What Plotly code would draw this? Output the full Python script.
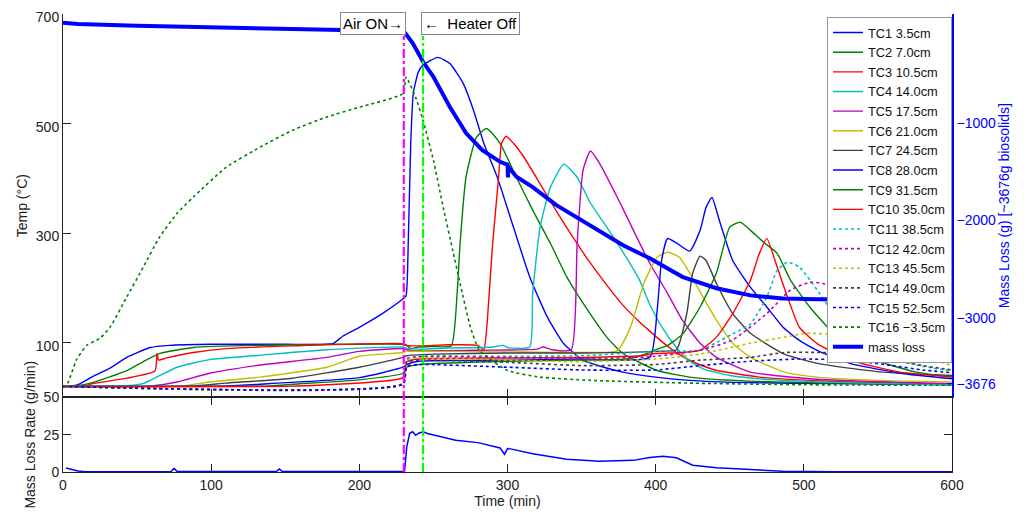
import plotly.graph_objects as go

# ---------------- data (time in min, temperature in degC) ----------------
tc1 = [[0,21],[9,22],[20,38],[32,54],[43,73],[59,91],[72,95],[100,97],[150,97],[182,98],[189,112],[200,128],[215,152],[229.5,180],[231.5,185],[233,281],[234.7,464],[236.4,555],[239.8,594],[243,607],[253,621],[261,610],[270,574],[277,525],[284,464],[293,403],[304,311],[315,220],[327,146],[338,98],[351,68],[365,55],[378,46],[400,37],[423,31],[460,27],[520,25],[600,23]]
tc2 = [[0,20],[8,21],[20,27],[43,49],[54,65],[65,80],[88,91],[133,95],[229.5,97],[232,95],[235,89],[240,92],[250,93],[262,94],[266,190],[268,281],[272,402],[279,475],[286,491],[295,464],[306,402],[317,342],[329,281],[340,220],[351,172],[367,110],[378,80],[401,49],[423,37],[460,30],[520,26],[600,24]]
tc3 = [[0,20],[15,21],[20,25],[43,35],[62,48],[63.5,80],[64.5,68],[70,72],[88,82],[110,89],[155,94],[229.5,98],[232,95],[240,94],[260,96],[280,95],[284,87],[286,128],[290,281],[294,402],[296,464],[299,477],[304,464],[311,439],[322,390],[333,340],[344,293],[356,245],[367,205],[378,168],[389,138],[396,121],[405,100],[415,80],[425,65],[440,50],[470,37],[520,29],[600,24]]
tc4 = [[0,20],[40,21],[54,25],[77,55],[99,69],[133,77],[178,87],[229.5,92],[232,90],[240,88],[260,90],[290,92],[297,95],[300,91],[315,92],[317,190],[322,311],[329,384],[338,426],[347,402],[356,355],[367,311],[378,265],[389,215],[396,170],[405,125],[414,91],[422,68],[432,52],[450,40],[480,32],[540,26],[600,23]]
tc5 = [[0,20],[60,21],[77,28],[99,44],[133,59],[178,73],[200,84],[229.5,89],[232,87],[240,85],[280,86],[320,88],[324,92],[330,87],[343,87],[347,281],[351,415],[356,450],[362,428],[374,366],[385,305],[396,245],[408,190],[418,141],[430,99],[441,73],[464,46],[509,33],[600,25]]
tc6 = [[0,20],[80,21],[99,28],[133,37],[178,55],[200,75],[229.5,82],[232,84],[250,84],[300,83],[350,82],[374,85],[383,128],[392,208],[401,256],[408,265],[416,256],[423,227],[432,183],[441,141],[452,99],[464,73],[487,46],[509,37],[550,31],[600,28]]
tc7 = [[0,20],[90,21],[110,26],[155,35],[200,55],[229.5,73],[232,76],[250,79],[300,81],[350,81],[400,84],[414,87],[421,153],[425,227],[430,258],[434,250],[441,208],[452,153],[464,117],[486,80],[509,62],[553,46],[600,40]]
tc8 = [[0,20],[110,21],[133,24],[200,36],[229.5,55],[232,60],[240,66],[300,68],[350,70],[396,73],[401,159],[404,250],[408,290],[414,282],[423,267],[430,305],[434,347],[438,365],[443,323],[452,250],[464,201],[475,165],[486,128],[497,104],[509,86],[531,62],[565,44],[600,34]]
tc9 = [[0,20],[140,21],[155,24],[200,32],[229.5,44],[232,55],[240,60],[300,66],[350,68],[380,70],[392,78],[401,88],[408,95],[418,115],[430,165],[441,227],[450,311],[457,320],[464,305],[473,283],[482,263],[491,214],[504,165],[520,117],[543,73],[576,46],[600,37]]
tc10 = [[0,19],[150,20],[178,23],[229.5,36],[232,65],[240,70],[300,72],[350,73],[390,76],[400,80],[418,82],[430,86],[441,110],[452,153],[464,214],[470,263],[475,290],[482,238],[489,183],[497,128],[509,98],[531,68],[565,46],[600,37]]
tc11 = [[0,20],[229.5,26],[232,70],[240,75],[300,75],[350,76],[400,84],[430,86],[441,100],[452,116],[464,134],[475,183],[482,232],[489,247],[497,238],[509,196],[520,153],[536,110],[553,80],[576,59],[600,48]]
tc12 = [[0,20],[229.5,25],[232,70],[240,74],[300,73],[350,70],[400,75],[430,86],[452,105],[475,153],[491,196],[504,210],[513,208],[530,175],[555,130],[575,100],[600,72]]
tc13 = [[0,20],[229.5,25],[232,68],[240,72],[300,68],[350,65],[400,70],[430,79],[464,99],[487,110],[502,117],[530,112],[558,95],[580,75],[600,58]]
tc14 = [[0,20],[229.5,25],[232,64],[240,68],[300,64],[350,58],[400,60],[430,68],[464,73],[487,82],[509,82],[530,80],[560,68],[580,58],[600,50]]
tc15 = [[0,20],[229.5,24],[232,56],[240,60],[300,55],[350,50],[400,50],[430,58],[464,66],[497,70],[530,68],[560,58],[580,50],[600,45]]
tc16 = [[0,20],[2.5,22],[9,68],[16,95],[25,108],[32,129],[43,183],[54,237],[65,292],[77,336],[88,366],[110,420],[133,457],[155,488],[178,512],[200,530],[229.5,555],[231.5,585],[238,548],[243,506],[250,433],[257,342],[263,269],[268,208],[275,128],[281,86],[300,49],[322,37],[356,31],[423,26],[500,23],[600,22]]

# mass loss (g) and mass loss rate (g/min)
mass_loss = [[0,27],[10,13],[50,-4],[100,-20],[150,-38],[200,-55],[230,-62],[236,-182],[243,-374],[250,-528],[261,-836],[272,-1106],[283,-1280],[295,-1400],[300,-1430],[300.3,-1560],[300.6,-1450],[306,-1554],[317,-1660],[333,-1845],[356,-2060],[378,-2256],[396,-2390],[418,-2580],[441,-2697],[464,-2770],[486,-2803],[509,-2810],[600,-2815]]
rate = [[2,2.7],[10,0.7],[15,0.1],[50,0.3],[73,0.3],[75,2.5],[77,0.3],[144,0.3],[146,2.0],[148,0.3],[229.5,0.2],[230.5,0.5],[232,16.8],[234,26],[236,27],[238,24.6],[240,26],[243,27],[246,25.8],[255,23.5],[265,21.3],[280,19.7],[295,16.1],[298,11.9],[300,15.7],[302,15.5],[317,12.3],[340,8.5],[362,7.2],[385,7.8],[396,9.7],[405,10.5],[414,9.5],[425,4.5],[441,2.9],[464,1.6],[486,0.5],[520,0.2],[600,0.2]]

labels = ["TC1 3.5cm","TC2 7.0cm","TC3 10.5cm","TC4 14.0cm","TC5 17.5cm","TC6 21.0cm","TC7 24.5cm","TC8 28.0cm",
          "TC9 31.5cm","TC10 35.0cm","TC11 38.5cm","TC12 42.0cm","TC13 45.5cm","TC14 49.0cm","TC15 52.5cm","TC16 \u22123.5cm"]
air_on_time = 230
heater_off_time = 243
x_ticks = [0,100,200,300,400,500,600]
temp_ticks = [100,300,500,700]
mass_ticks = [-1000,-2000,-3000,-3676]
rate_ticks = [0,25,50]

# ---------------- styles ----------------
series = [tc1,tc2,tc3,tc4,tc5,tc6,tc7,tc8,tc9,tc10,tc11,tc12,tc13,tc14,tc15,tc16]
colors = ["#0000FF","#008000","#FF0000","#00BFBF","#BF00BF","#BFBF00","#404040","#0000FF",
          "#008000","#FF0000","#00BFBF","#BF00BF","#BFBF00","#404040","#0000FF","#008000"]
dashes = ["solid"]*10 + ["dot"]*6

FONT = "Liberation Sans, Arial, sans-serif"
fig = go.Figure()
for s, lab, c, d in zip(series, labels, colors, dashes):
    fig.add_trace(go.Scatter(x=[p[0] for p in s], y=[p[1] for p in s], name=lab, mode="lines",
                             line=dict(color=c, width=1.4 if d == "solid" else 1.6, dash=d,
                                       shape="spline", smoothing=0.5),
                             xaxis="x2", yaxis="y"))
fig.add_trace(go.Scatter(x=[p[0] for p in mass_loss], y=[p[1] for p in mass_loss], name="mass loss",
                         mode="lines", line=dict(color="#0000FF", width=4), xaxis="x2", yaxis="y2"))
fig.add_trace(go.Scatter(x=[p[0] for p in rate], y=[p[1] for p in rate], showlegend=False,
                         mode="lines", line=dict(color="#0000FF", width=1.5), xaxis="x", yaxis="y3"))

split = 0.163
for t, col in [(air_on_time, "#FF00FF"), (heater_off_time, "#00FF00")]:
    fig.add_shape(type="line", xref="x", yref="paper", x0=t, x1=t, y0=0, y1=0.952,
                  line=dict(color=col, width=2.2, dash="dashdot"))

fig.add_annotation(text="Air ON\u2192", xref="x", yref="paper", x=air_on_time, y=1.005, xanchor="right",
                   yanchor="top", xshift=2, showarrow=False, font=dict(size=15, color="black", family=FONT),
                   bgcolor="white", bordercolor="#888888", borderwidth=1, borderpad=2)
fig.add_annotation(text="\u2190  Heater Off", xref="x", yref="paper", x=heater_off_time, y=1.005, xanchor="left",
                   yanchor="top", xshift=-2, showarrow=False, font=dict(size=15, color="black", family=FONT),
                   bgcolor="white", bordercolor="#888888", borderwidth=1, borderpad=2)

axis_common = dict(showgrid=False, zeroline=False, ticks="inside", ticklen=8, tickcolor="#222222",
                   linecolor="#222222", linewidth=1, showline=True, automargin=False,
                   ticklabeloverflow="allow", tickfont=dict(size=14, color="#222222"))

# page body adds an 8px offset, so the figure is 8px smaller and margins are shifted accordingly
fig.update_layout(
    width=1019, height=516, margin=dict(l=55, r=75, t=6, b=52),
    paper_bgcolor="white", plot_bgcolor="white",
    font=dict(family=FONT, size=14, color="#222222"),
    showlegend=True,
    legend=dict(x=1.0, y=0.994, xanchor="right", yanchor="top", bgcolor="white",
                bordercolor="#999999", borderwidth=1, font=dict(size=12.8, color="#111111"),
                tracegroupgap=0, itemwidth=30),
    xaxis=dict(domain=[0,1], anchor="y3", range=[0,600], tickvals=x_ticks, mirror="ticks",
               title=dict(text="Time (min)", standoff=0, font=dict(size=14)), **axis_common),
    xaxis2=dict(domain=[0,1], anchor="y", range=[0,600], tickvals=x_ticks, matches="x",
                showticklabels=False, **axis_common),
    yaxis=dict(domain=[split,1], anchor="x2", range=[0,700.2], tickvals=temp_ticks, ticklabelshift=3,
               title=dict(text="Temp (\u00b0C)", standoff=4, font=dict(size=14)), **axis_common),
    yaxis2=dict(overlaying="y", anchor="x2", side="right", range=[-3816,116], tickvals=mass_ticks,
                showgrid=False, zeroline=False, ticks="inside", ticklen=5, tickcolor="#0000FF", automargin=False,
                showline=True, linecolor="#0000FF", linewidth=1.5, tickfont=dict(size=14, color="#0000FF"),
                title=dict(text="Mass Loss (g) [~3676g biosolids]", standoff=2, font=dict(size=14, color="#0000FF"))),
    yaxis3=dict(domain=[0,split], anchor="x", range=[0,50.05], tickvals=rate_ticks, mirror="ticks",
                title=dict(text="Mass Loss Rate (g/min)", standoff=4, font=dict(size=14)), **axis_common),
)

fig.write_html("out.html")
